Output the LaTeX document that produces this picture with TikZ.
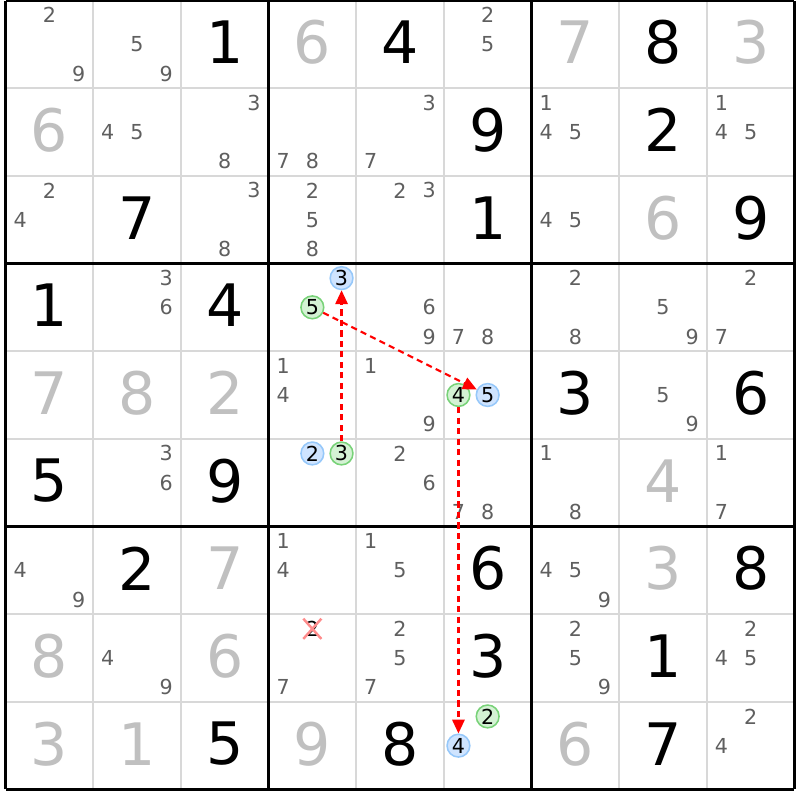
\documentclass[tikz,border=0pt]{standalone}
\usepackage{fontspec}
\setmainfont{DejaVu Sans}
\usepackage{tikz}
\usetikzlibrary{arrows.meta}
\usetikzlibrary{shapes.misc}
\definecolor{givengray}{RGB}{192,192,192}
\definecolor{candgray}{RGB}{95,95,95}
\definecolor{gridgray}{RGB}{216,216,216}
\definecolor{bluefill}{RGB}{207,228,255}
\definecolor{blueline}{RGB}{150,200,250}
\definecolor{greenfill}{RGB}{212,242,212}
\definecolor{greenline}{RGB}{120,210,120}
\definecolor{crossred}{RGB}{255,140,140}
\definecolor{chainred}{RGB}{255,0,0}
\tikzstyle{given} = [font=\fontsize{19}{19}\selectfont, text=black, inner sep=0pt]
\tikzstyle{solved} = [given, text=givengray]
\tikzstyle{cand} = [font=\fontsize{6.7}{6.7}\selectfont, text=candgray, inner sep=0pt]
\tikzstyle{oncand} = [cand, text=black, circle, draw=blueline, fill=bluefill, line width=0.5pt, minimum size=0.26cm]
\tikzstyle{offcand} = [oncand, draw=greenline, fill=greenfill]
\tikzstyle{struck} = [cand, text=black, cross out, draw=crossred, line width=0.8pt, inner sep=0.4pt]
\tikzstyle{chain} = [color=chainred, line width=0.7pt, dash pattern=on 2pt off 1.4pt, -{Triangle[length=4.5pt,width=4pt]}]

\begin{document}
\begin{tikzpicture}
  \fill[white] (-0.063,-0.12) rectangle (9.063,9.006);
  \useasboundingbox (-0.063,-0.12) rectangle (9.063,9.006);

  % grid
  \foreach \i in {1,2,4,5,7,8} {
    \draw[gridgray, line width=0.6pt] (\i,0) -- (\i,9);
    \draw[gridgray, line width=0.6pt] (0,\i) -- (9,\i);
  }
  \foreach \i in {0,3,6,9} {
    \draw[line width=1.2pt] (\i,0) -- (\i,9);
    \draw[line width=1.2pt] (0,\i) -- (9,\i);
  }

  % digits (row/column/value)
  \foreach \r/\c/\d in {1/3/1, 1/5/4, 1/8/8, 2/6/9, 2/8/2, 3/2/7, 3/6/1, 3/9/9,
      4/1/1, 4/3/4, 5/7/3, 5/9/6, 6/1/5, 6/3/9, 7/2/2, 7/6/6, 7/9/8,
      8/6/3, 8/8/1, 9/3/5, 9/5/8, 9/8/7}
    \node[given] (g\r\c) at (\c-0.5, 9.52-\r) {\d};
  \foreach \r/\c/\d in {1/4/6, 1/7/7, 1/9/3, 2/1/6, 3/8/6, 5/1/7, 5/2/8, 5/3/2,
      6/8/4, 7/3/7, 7/8/3, 8/1/8, 8/3/6, 9/1/3, 9/2/1, 9/4/9, 9/7/6}
    \node[solved] (g\r\c) at (\c-0.5, 9.52-\r) {\d};

  % candidates
  \node[struck] (c842) at (3.5, 1.833) {2};
  \foreach \r/\c/\n in {1/1/2, 1/1/9, 1/2/5, 1/2/9, 1/6/2, 1/6/5,
      2/2/4, 2/2/5, 2/3/3, 2/3/8, 2/4/7, 2/4/8, 2/5/3, 2/5/7,
      2/7/1, 2/7/4, 2/7/5, 2/9/1, 2/9/4, 2/9/5,
      3/1/2, 3/1/4, 3/3/3, 3/3/8, 3/4/2, 3/4/5, 3/4/8, 3/5/2, 3/5/3, 3/7/4, 3/7/5,
      4/2/3, 4/2/6, 4/5/6, 4/5/9, 4/6/7, 4/6/8, 4/7/2, 4/7/8, 4/8/5, 4/8/9, 4/9/2, 4/9/7,
      5/4/1, 5/4/4, 5/5/1, 5/5/9, 5/8/5, 5/8/9,
      6/2/3, 6/2/6, 6/5/2, 6/5/6, 6/6/7, 6/6/8, 6/7/1, 6/7/8, 6/9/1, 6/9/7,
      7/1/4, 7/1/9, 7/4/1, 7/4/4, 7/5/1, 7/5/5, 7/7/4, 7/7/5, 7/7/9,
      8/2/4, 8/2/9, 8/4/7, 8/5/2, 8/5/5, 8/5/7, 8/7/2, 8/7/5, 8/7/9,
      8/9/2, 8/9/4, 8/9/5, 9/9/2, 9/9/4}
    \node[cand] (c\r\c\n) at ({\c-0.5+(mod(\n-1,3)-1)/3}, {9.5-\r-(div(\n-1,3)-1)/3}) {\n};
  \foreach \r/\c/\n in {4/4/3, 5/6/5, 6/4/2, 9/6/4}
    \node[oncand] (c\r\c\n) at ({\c-0.5+(mod(\n-1,3)-1)/3}, {9.5-\r-(div(\n-1,3)-1)/3}) {\n};
  \foreach \r/\c/\n in {4/4/5, 5/6/4, 6/4/3, 9/6/2}
    \node[offcand] (c\r\c\n) at ({\c-0.5+(mod(\n-1,3)-1)/3}, {9.5-\r-(div(\n-1,3)-1)/3}) {\n};

  % chain
  \draw[chain] (c643) -- (c443);
  \draw[chain] (c445) -- (c565);
  \draw[chain] (c564) -- (c964);
\end{tikzpicture}
\end{document}
